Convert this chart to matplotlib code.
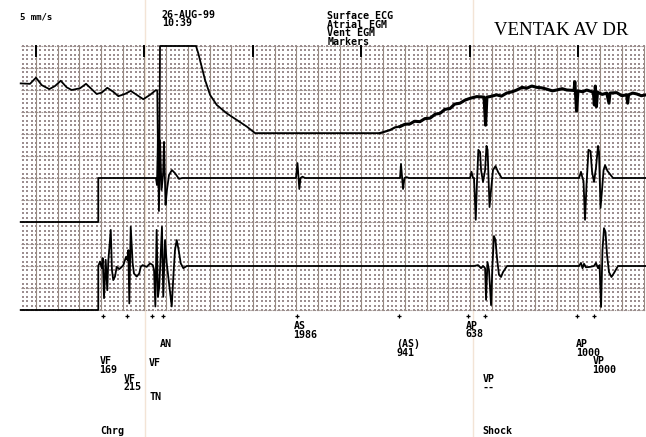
import numpy as np
import matplotlib.pyplot as plt

# time in seconds from the left edge of the grid, amplitude in mm of paper
surf_t = [0.000, 0.086, 0.141, 0.194, 0.264, 0.316, 0.369, 0.424, 0.470, 0.547,
          0.602, 0.654, 0.700, 0.747, 0.798, 0.853, 0.900, 0.961, 1.014, 1.069,
          1.130, 1.192, 1.247, 1.259, 1.265, 1.279, 1.284, 1.616, 1.637, 1.668,
          1.699, 1.745, 1.807, 1.899, 1.991, 2.083, 2.160, 3.312]
surf_mm = [51.5, 51.4, 52.8, 51.1, 50.2, 50.9, 52.1, 50.6, 50.0, 50.4,
           51.4, 50.2, 49.1, 49.4, 50.5, 49.6, 48.6, 49.1, 49.8, 48.9,
           47.9, 48.9, 50.0, 49.8, 35.9, 35.9, 60.0, 60.0, 58.3, 55.3,
           52.3, 48.9, 46.6, 44.7, 43.2, 41.7, 40.2, 40.2]

# noisy part after the shock
noisy_t = [3.312, 3.404, 3.450, 3.496, 3.540, 3.588, 3.630, 3.680, 3.725, 3.773,
           3.820, 3.865, 3.910, 3.957, 4.000, 4.049, 4.095, 4.141, 4.203, 4.270,
           4.285, 4.297, 4.326, 4.387, 4.430, 4.479, 4.530, 4.572, 4.620, 4.664,
           4.710, 4.756, 4.800, 4.848, 4.900, 4.940, 4.990, 5.033, 5.100, 5.107,
           5.123, 5.136, 5.180, 5.217, 5.278, 5.287, 5.296, 5.306, 5.316, 5.360,
           5.401, 5.422, 5.431, 5.493, 5.540, 5.585, 5.594, 5.602, 5.640, 5.678,
           5.720, 5.764]
noisy_mm = [40.2, 40.9, 41.5, 41.7, 42.2, 42.3, 42.9, 42.8, 43.5, 43.6,
            44.5, 44.7, 45.6, 45.8, 46.8, 47.0, 47.7, 48.1, 48.5, 48.4,
            42.0, 48.4, 48.5, 48.9, 48.6, 49.3, 49.6, 50.0, 50.6, 50.4,
            50.9, 50.6, 50.5, 50.2, 49.8, 50.0, 50.3, 50.0, 49.9, 51.9,
            45.2, 49.8, 49.6, 50.0, 49.5, 46.6, 50.9, 46.2, 49.5, 49.0,
            49.3, 47.0, 49.3, 49.4, 48.7, 48.9, 47.0, 48.9, 49.3, 49.1,
            48.7, 48.9]

atr_t = [0.000, 0.715, 0.715, 1.247, 1.256, 1.265, 1.274, 1.284, 1.298, 1.312,
         1.321, 1.335, 1.348, 1.367, 1.394, 1.422, 1.459, 1.487,
         2.537, 2.551, 2.568, 2.579, 2.597, 2.620,
         3.496, 3.505, 3.524, 3.537, 3.556, 3.578,
         4.141, 4.155, 4.169, 4.178, 4.194, 4.206, 4.218, 4.234, 4.243, 4.261,
         4.280, 4.293, 4.303, 4.321, 4.335, 4.353, 4.376, 4.399, 4.433,
         5.146, 5.164, 5.178, 5.187, 5.201, 5.215, 5.233, 5.252, 5.266, 5.284,
         5.302, 5.321, 5.330, 5.344, 5.358, 5.372, 5.386, 5.408, 5.459, 5.764]
atr_mm = [20.0, 20.0, 30.0, 30.0, 28.4, 39.3, 22.5, 38.6, 27.3, 30.7,
          38.2, 23.9, 27.3, 30.7, 31.8, 31.1, 29.8, 30.0,
          30.0, 33.4, 27.5, 30.0, 30.3, 30.0,
          30.0, 33.2, 27.5, 30.0, 30.2, 30.0,
          30.0, 31.4, 30.0, 30.0, 20.5, 29.5, 36.4, 35.9, 31.8, 29.1,
          31.8, 37.3, 36.4, 23.4, 27.3, 31.8, 32.7, 31.4, 30.0,
          30.0, 31.4, 30.0, 29.3, 20.5, 28.4, 36.4, 36.1, 31.4, 29.1,
          32.3, 37.3, 35.9, 23.2, 27.3, 31.8, 32.9, 31.6, 30.0, 30.0]

vent_t = [0.000, 0.715, 0.715, 0.731, 0.747, 0.756, 0.768, 0.783, 0.798, 0.807,
          0.830, 0.841, 0.853, 0.869, 0.885, 0.909, 0.931, 0.946, 0.971, 0.983,
          0.992, 1.001, 1.014, 1.032, 1.044, 1.069, 1.093, 1.106, 1.124, 1.161,
          1.192, 1.217, 1.229, 1.241, 1.253, 1.265, 1.277, 1.302, 1.314, 1.330,
          1.346, 1.360, 1.392, 1.407, 1.422, 1.438, 1.456, 1.475, 1.499, 1.530,
          4.178, 4.215, 4.243, 4.261, 4.280, 4.289, 4.302, 4.316, 4.335, 4.348,
          4.362, 4.376, 4.390, 4.408, 4.427, 4.445, 4.482,
          5.146, 5.164, 5.178, 5.192, 5.210, 5.247, 5.284, 5.302, 5.321, 5.335,
          5.349, 5.362, 5.376, 5.390, 5.404, 5.422, 5.445, 5.468, 5.505, 5.764]
vent_mm = [0.0, 0.0, 10.0, 11.0, 9.5, 11.8, 2.7, 11.4, 4.5, 11.0,
           18.2, 9.1, 6.8, 7.6, 9.8, 9.3, 9.8, 10.2, 12.1, 11.4,
           13.6, 1.5, 18.9, 10.6, 8.3, 7.6, 8.3, 9.8, 10.2, 9.8,
           10.6, 10.2, 9.1, 0.8, 18.2, 3.0, 5.3, 18.9, 3.0, 15.9,
           10.6, 7.6, 0.8, 7.6, 13.6, 15.9, 13.6, 10.6, 9.5, 10.0,
           10.0, 10.2, 9.5, 10.0, 9.5, 2.3, 10.9, 9.1, 1.1, 10.2,
           16.8, 15.9, 11.8, 8.0, 7.5, 8.6, 10.0,
           10.0, 10.7, 9.5, 10.5, 9.7, 9.8, 10.0, 10.7, 9.5, 10.2,
           0.7, 13.6, 18.6, 17.7, 12.5, 8.6, 7.5, 8.4, 10.0, 10.0]

marker_t = [0.758, 0.980, 1.210, 1.311, 2.547, 3.488, 4.126, 4.283, 5.126, 5.283]

marker_labels = ["AN", "VF\n169", "VF", "VF\n215", "TN", "Chrg",
                 "AS\n1986", "(AS)\n941", "AP\n638", "VP\n--", "Shock",
                 "AP\n1000", "VP\n1000"]
label_t = [1.284, 0.724, 1.183, 0.946, 1.183, 0.731,
           2.513, 3.459, 4.102, 4.255, 4.255, 5.115, 5.268]
label_mm = [-6.6, -10.5, -10.8, -14.5, -18.7, -26.4,
            -2.6, -6.6, -2.4, -14.5, -26.4, -6.6, -10.5]

channels = ["Surface ECG", "Atrial EGM", "Vent EGM", "Markers"]

fig = plt.figure(figsize=(6.46, 4.37), dpi=100)
ax = fig.add_axes([0, 0, 1, 1])
ax.set_xlim(-20.7 / 108.5, 625.3 / 108.5)
ax.set_ylim(-127 / 4.4, 310 / 4.4)
ax.axis("off")

t_end = 625.3 / 108.5
mono = dict(family="DejaVu Sans Mono", weight="bold", fontsize=7.2, color="black")
pitch = 1.93  # mm between printed lines


def block(x, y_top, text, step=pitch):
    for i, line in enumerate(text.split("\n")):
        ax.text(x, y_top - i * step, line, va="top", ha="left", **mono)


# paper seams
for ts in [1.145, 4.17]:
    ax.axvline(ts, color="#f3e4d6", lw=1.0, zorder=0)

# dot grid (1 mm)
dot_x = np.arange(0.021, t_end, 0.04)
dot_y = np.arange(0, 61, 1)
gx, gy = np.meshgrid(dot_x, dot_y)
ax.scatter(gx.ravel(), gy.ravel(), s=1.1, marker="s", color="#9c8e90",
           linewidths=0, zorder=1)

# major lines every 5 mm
for xv in np.arange(0.141, t_end, 0.2):
    ax.plot([xv, xv], [0, 60], color="#978a82", lw=0.8, zorder=2)
for yv in range(0, 61, 5):
    ax.plot([0, t_end], [yv, yv], color="#9a8d8a", lw=0.8,
            ls=(0, (1.2, 0.8)), zorder=2)

# one-second ticks on top edge
for xv in np.arange(0.141, t_end, 1.0):
    ax.plot([xv, xv], [57.7, 60], color="black", lw=1.4, zorder=3)

# traces
trace = dict(color="black", lw=1.3, solid_joinstyle="round", zorder=4)
ax.plot(surf_t, surf_mm, **trace)
ax.plot(noisy_t[:4], noisy_mm[:4], color="black", lw=1.6, zorder=4)
ax.plot(noisy_t[3:], noisy_mm[3:], color="black", lw=2.2, zorder=4)
ax.plot(atr_t, atr_mm, **trace)
ax.plot(vent_t, vent_mm, **trace)

# markers channel
ax.plot(marker_t, [-1.4] * len(marker_t), ls="none", marker="+",
        ms=3.5, mew=0.9, color="black", zorder=4)
for txt, xt, yt in zip(marker_labels, label_t, label_mm):
    block(xt, yt, txt)

# header
ax.text(-0.01, 67.5, "5 mm/s", va="top", ha="left", family="DejaVu Sans Mono",
        weight="bold", fontsize=6.5)
block(1.300, 68.2, "26-AUG-99\n10:39")
block(2.826, 68.0, "\n".join(channels), step=1.98)
ax.text(4.362, 62.5, "VENTAK AV DR", va="baseline", ha="left",
        family="Liberation Serif", fontsize=13.5, color="black")

fig.savefig("out.png", dpi=100)
